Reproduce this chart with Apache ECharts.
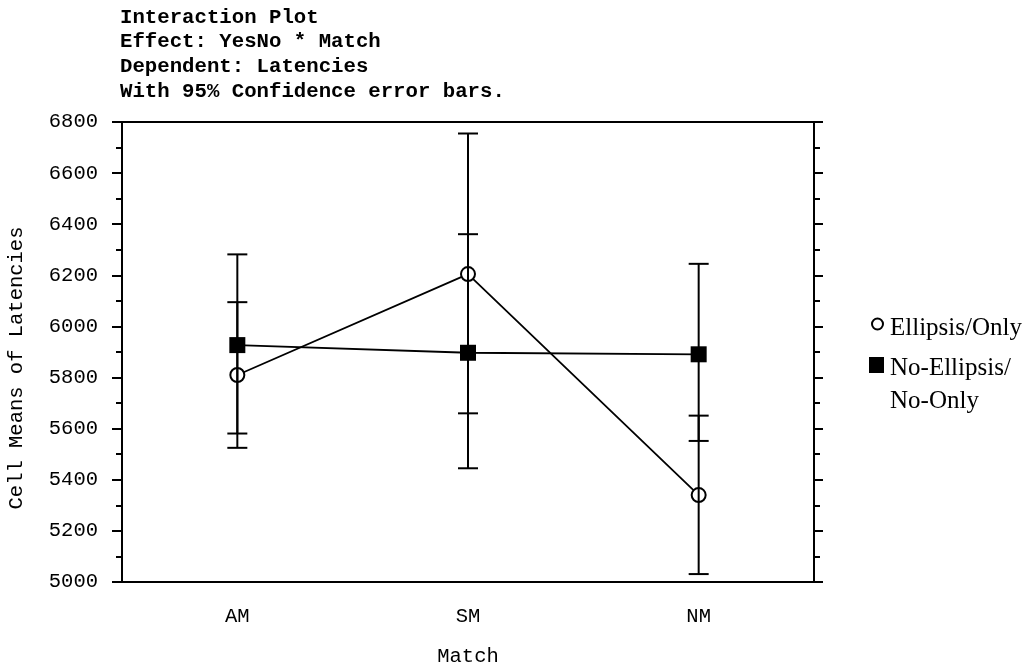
<!DOCTYPE html>
<html>
<head>
<meta charset="utf-8">
<title>Interaction Plot</title>
<script src="https://cdn.jsdelivr.net/npm/echarts@6/dist/echarts.min.js"></script>
<style>
  html, body { margin: 0; padding: 0; background: #fff; }
  #main { width: 1036px; height: 663px; }
</style>
</head>
<body>
<div id="main"></div>
<script>
// data
let categories = ['AM', 'SM', 'NM']
let yTicks = [5000, 5200, 5400, 5600, 5800, 6000, 6200, 6400, 6600, 6800]

let seriesNames = ['Ellipsis/Only', 'No-Ellipsis/No-Only']
let ellipsisMeans = [5810, 6205, 5340]
let ellipsisLow = [5525, 5660, 5031]
let ellipsisHigh = [6095, 6755, 5651]
let noEllipsisMeans = [5927, 5897, 5891]
let noEllipsisLow = [5581, 5445, 5552]
let noEllipsisHigh = [6282, 6361, 6245]

let titleLines = ['Interaction Plot', 'Effect: YesNo * Match', 'Dependent: Latencies', 'With 95% Confidence error bars.']

let mono = 'Liberation Mono'
let serif = 'Liberation Serif'

function errData(low, high) {
  let out = []
  for (let i = 0; i < low.length; i++) {
    out.push([i, low[i], high[i]])
  }
  return out
}

// vertical bar with caps, drawn through the axes
function renderErr(params, api) {
  let lo = api.coord([api.value(0), api.value(1)])
  let hi = api.coord([api.value(0), api.value(2)])
  let half = 10
  let st = {stroke: '#000', lineWidth: 2}
  return {
    type: 'group',
    children: [
      {type: 'line', shape: {x1: lo[0], y1: lo[1], x2: hi[0], y2: hi[1]}, style: st},
      {type: 'line', shape: {x1: lo[0] - half, y1: lo[1], x2: lo[0] + half, y2: lo[1]}, style: st},
      {type: 'line', shape: {x1: hi[0] - half, y1: hi[1], x2: hi[0] + half, y2: hi[1]}, style: st}
    ]
  }
}

let axisLine = {show: true, lineStyle: {color: '#000', width: 2}}
let tickStyle = {color: '#000', width: 2}

let myChart = echarts.init(document.getElementById('main'))
myChart.setOption({
  animation: false,
  title: {
    text: titleLines.join('\n'),
    left: 120,
    top: 5,
    padding: 0,
    textStyle: {fontFamily: mono, fontWeight: 'bold', fontSize: 20.7, lineHeight: 24.7, color: '#000'}
  },
  grid: {left: 122, top: 122, right: 222, bottom: 81, outerBoundsMode: 'none'},
  xAxis: [
    {
      type: 'category',
      data: categories,
      position: 'bottom',
      axisLine: axisLine,
      axisTick: {alignWithLabel: true, length: 10, lineStyle: tickStyle},
      axisLabel: {color: '#000', fontFamily: mono, fontSize: 20.5, margin: 24},
      name: 'Match',
      nameLocation: 'middle',
      nameGap: 64,
      nameTextStyle: {color: '#000', fontFamily: mono, fontSize: 20.5}
    },
    {
      type: 'category',
      data: categories,
      position: 'top',
      axisLine: axisLine,
      axisTick: {alignWithLabel: true, length: 11, lineStyle: tickStyle},
      axisLabel: {show: false}
    }
  ],
  yAxis: [
    {
      type: 'value',
      min: yTicks[0],
      max: yTicks[yTicks.length - 1],
      interval: 200,
      axisLine: axisLine,
      axisTick: {show: true, length: 10, lineStyle: tickStyle},
      minorTick: {show: true, splitNumber: 2, length: 6, lineStyle: tickStyle},
      splitLine: {show: false},
      axisLabel: {color: '#000', fontFamily: mono, fontSize: 20.5, margin: 24, formatter: v => String(v)},
      name: 'Cell Means of Latencies',
      nameLocation: 'middle',
      nameGap: 95,
      nameTextStyle: {color: '#000', fontFamily: mono, fontSize: 20.5, padding: [0, 32, 0, 0]}
    },
    {
      type: 'value',
      position: 'right',
      min: yTicks[0],
      max: yTicks[yTicks.length - 1],
      interval: 200,
      axisLine: axisLine,
      axisTick: {show: true, length: 9, lineStyle: tickStyle},
      minorTick: {show: true, splitNumber: 2, length: 6, lineStyle: tickStyle},
      splitLine: {show: false},
      axisLabel: {show: false}
    }
  ],
  series: [
    {
      name: seriesNames[0],
      type: 'line',
      data: ellipsisMeans,
      symbol: 'circle',
      symbolSize: 14,
      itemStyle: {color: '#fff', borderColor: '#000', borderWidth: 2},
      lineStyle: {color: '#000', width: 1.8},
      z: 3
    },
    {
      name: seriesNames[1],
      type: 'line',
      data: noEllipsisMeans,
      symbol: 'rect',
      symbolSize: 16,
      itemStyle: {color: '#000'},
      lineStyle: {color: '#000', width: 1.8},
      z: 3
    },
    {
      type: 'custom',
      renderItem: renderErr,
      data: errData(ellipsisLow, ellipsisHigh),
      encode: {x: 0, y: [1, 2]},
      z: 4
    },
    {
      type: 'custom',
      renderItem: renderErr,
      data: errData(noEllipsisLow, noEllipsisHigh),
      encode: {x: 0, y: [1, 2]},
      z: 4
    }
  ],
  // legend drawn by hand, the second name wraps under its square
  graphic: [
    {type: 'circle', shape: {cx: 877.5, cy: 324, r: 5.5}, style: {fill: '#fff', stroke: '#000', lineWidth: 2}},
    {type: 'rect', shape: {x: 869, y: 357, width: 15, height: 16}, style: {fill: '#000'}},
    {type: 'text', x: 890, y: 328.3, style: {text: seriesNames[0], font: '25px "' + serif + '"', fill: '#000', verticalAlign: 'middle'}},
    {type: 'text', x: 890, y: 368.6, style: {text: 'No-Ellipsis/', font: '25px "' + serif + '"', fill: '#000', verticalAlign: 'middle'}},
    {type: 'text', x: 890, y: 401.6, style: {text: 'No-Only', font: '25px "' + serif + '"', fill: '#000', verticalAlign: 'middle'}}
  ]
})
</script>
</body>
</html>
